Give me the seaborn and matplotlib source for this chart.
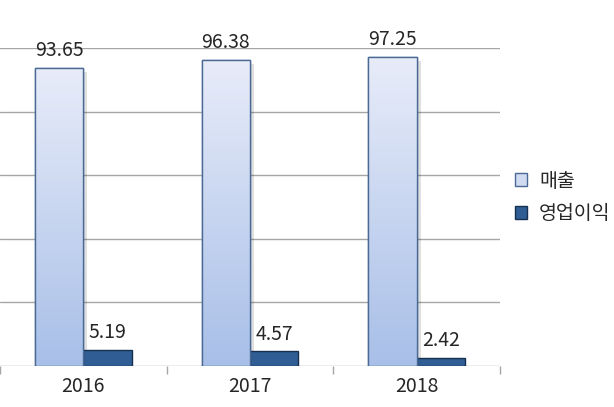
import numpy as np
import pandas as pd
import matplotlib
matplotlib.use("Agg")
import matplotlib.pyplot as plt
import seaborn as sns
from matplotlib.colors import LinearSegmentedColormap
from matplotlib.patches import Patch
import matplotlib.patheffects as pe

years = ["2016", "2017", "2018"]
sales = [93.65, 96.38, 97.25]
profit = [5.19, 4.57, 2.42]
series_names = ["매출", "영업이익"]

sns.set_theme(style="white")
plt.rcParams['font.family'] = ['Noto Sans CJK KR', 'DejaVu Sans']

df = pd.DataFrame({
    "year": years * 2,
    "value": sales + profit,
    "series": [series_names[0]] * 3 + [series_names[1]] * 3,
})

fig = plt.figure(figsize=(6.14, 4.07), dpi=100)
ax = fig.add_axes([0.0, 0.1007, 0.8143, 0.7813])

light_top = "#e8ecf9"
light_bot = "#a8bfe8"
light_edge = "#4a6a95"
dark_fill = "#2f5d94"
dark_edge = "#17304f"

sns.barplot(data=df, x="year", y="value", hue="series", ax=ax,
            palette=[light_bot, dark_fill], width=0.58, gap=0,
            saturation=1, legend=False, zorder=3)

ax.set_ylim(0, 100)
ax.set_xlim(-0.5, 2.5)
ax.set_yticks([0, 20, 40, 60, 80, 100])
ax.yaxis.grid(True, color="#a6a6a6", linewidth=1.0)
ax.set_axisbelow(True)
for s in ax.spines.values():
    s.set_visible(False)
ax.set_yticklabels([])
ax.tick_params(axis="y", length=0)
ax.set_xlabel("")
ax.set_ylabel("")

# category boundary ticks
ax.set_xticks([0, 1, 2])
ax.set_xticklabels(years, fontsize=14)
ax.tick_params(axis="x", which="major", bottom=False, length=0, pad=7)
ax.set_xticks([-0.5, 0.5, 1.5, 2.5], minor=True)
ax.tick_params(axis="x", which="minor", bottom=True, length=6, color="#a6a6a6",
               width=1, direction="out")

cmap = LinearSegmentedColormap.from_list("g", [light_bot, light_top])
grad = np.linspace(0, 1, 256).reshape(-1, 1)

cont_sales, cont_profit = ax.containers[0], ax.containers[1]
for bar in cont_sales:
    bar.set_edgecolor(light_edge)
    bar.set_linewidth(1.0)
    bar.set_path_effects([pe.SimplePatchShadow(offset=(3, -3), shadow_rgbFace="#000000", alpha=0.12), pe.Normal()])
    x0, y0 = bar.get_x(), bar.get_y()
    w, h = bar.get_width(), bar.get_height()
    im = ax.imshow(grad, extent=[x0, x0 + w, y0, y0 + h], origin="lower",
                   cmap=cmap, aspect="auto", zorder=3.5)
    im.set_clip_path(bar)
    ax.add_patch(plt.Rectangle((x0, y0), w, h, fill=False, edgecolor=light_edge,
                               linewidth=1.0, zorder=4))
for bar in cont_profit:
    bar.set_edgecolor(dark_edge)
    bar.set_linewidth(1.0)
ax.set_xlim(-0.5, 2.5)
ax.set_ylim(0, 100)

ax.bar_label(cont_sales, labels=[f"{v:.2f}" for v in sales], padding=5, fontsize=14, zorder=5)
ax.bar_label(cont_profit, labels=[f"{v:.2f}" for v in profit], padding=5, fontsize=14, zorder=5)

handles = [Patch(facecolor="#d0dbf2", edgecolor=light_edge, label=series_names[0]),
           Patch(facecolor=dark_fill, edgecolor=dark_edge, label=series_names[1])]
fig.legend(handles=handles, loc="center left", bbox_to_anchor=(0.81, 0.515),
           frameon=False, fontsize=14, handlelength=0.65, handleheight=0.65,
           handletextpad=0.6, labelspacing=0.6)

fig.savefig("out.png", dpi=100)
